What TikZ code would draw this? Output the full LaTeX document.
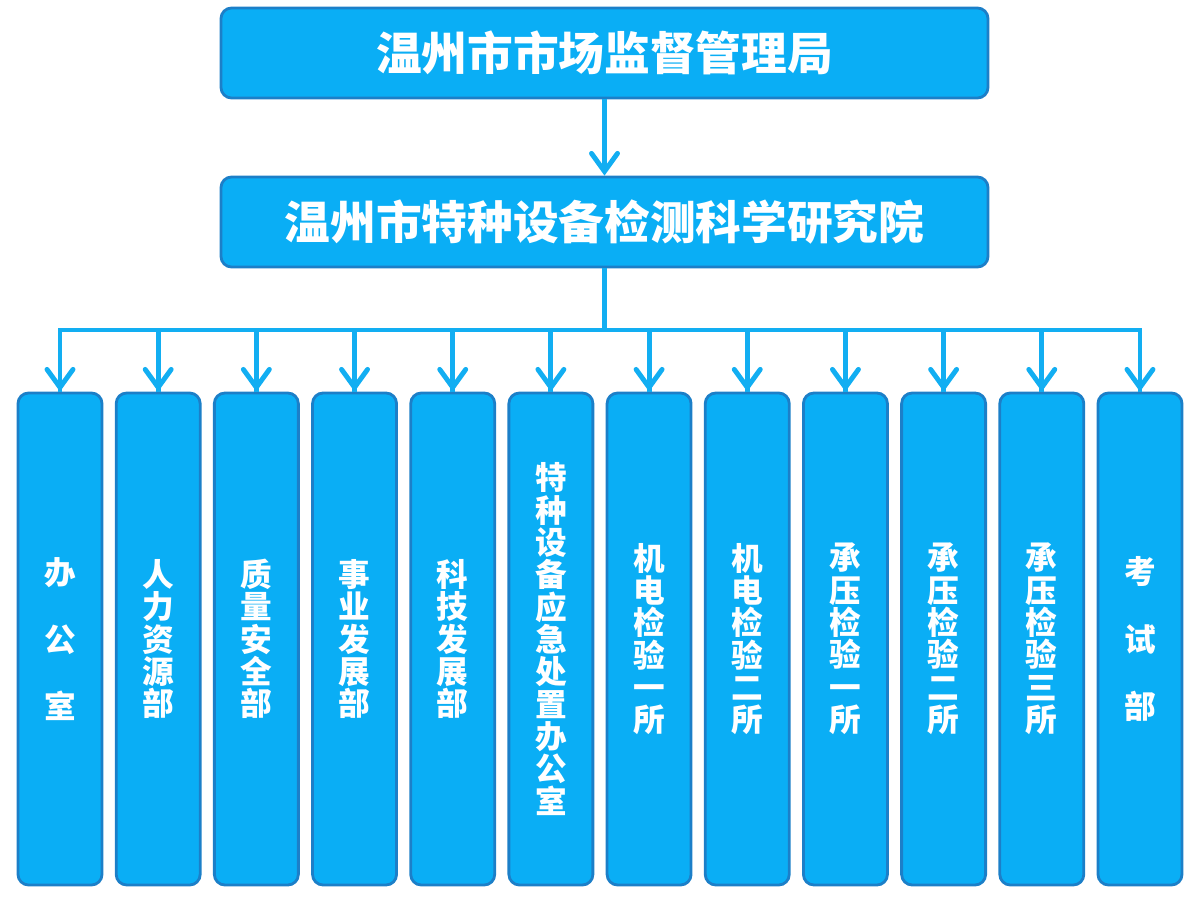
\documentclass[tikz,border=0pt]{standalone}
\usepackage{fontspec}
\setmainfont{Noto Sans CJK SC}
\usetikzlibrary{arrows.meta,positioning}

\definecolor{boxfill}{HTML}{0AAEF5}
\definecolor{boxline}{HTML}{1C7FC8}
\definecolor{linkblue}{HTML}{12AEF2}

\tikzset{
  head/.style={draw=boxline,fill=boxfill,line width=1.6pt,rounded corners=6pt,
    minimum width=15.34cm,minimum height=1.8cm,text=white,
    font=\fontsize{26}{28}\selectfont\bfseries},
  dept/.style={draw=boxline,fill=boxfill,line width=1.6pt,rounded corners=6pt,
    minimum width=1.68cm,minimum height=9.84cm,text=white,align=center,
    font=\fontsize{18}{18.4}\selectfont\bfseries},
  link/.style={draw=linkblue,line width=2.8pt,
    -{Straight Barb[length=3.6mm,width=5.2mm,line cap=round]}}
}

\begin{document}
\begin{tikzpicture}[node distance=3.38cm,on grid]
   \useasboundingbox (0,0) rectangle (23.98,-17.98);
   \node[head] (bureau) at (12.09,-1.06) {温州市市场监督管理局};
   \node[head] (inst) [below=of bureau] {温州市特种设备检测科学研究院};
   \coordinate (bus) at (12.09,-6.6);
   \foreach \name/\label [count=\i from 0] in {
      office/{办\\[1.1em]公\\[1.1em]室},
      hr/{人\\力\\资\\源\\部},
      quality/{质\\量\\安\\全\\部},
      business/{事\\业\\发\\展\\部},
      tech/{科\\技\\发\\展\\部},
      emerg/{特\\种\\设\\备\\应\\急\\处\\置\\办\\公\\室},
      mech1/{机\\电\\检\\验\\一\\所},
      mech2/{机\\电\\检\\验\\二\\所},
      press1/{承\\压\\检\\验\\一\\所},
      press2/{承\\压\\检\\验\\二\\所},
      press3/{承\\压\\检\\验\\三\\所},
      exam/{考\\[1.1em]试\\[1.1em]部}} {
     \node[dept] (\name) at ({1.2+1.9636*\i},-12.78) {\label};
     \draw[link,-] (bus) -| (\name.north);
     \draw[link] (\name.north |- bus) -- (\name.north);
   }
   \draw[link] (bureau) -- (inst);
   \draw[link,-] (inst) -- (bus);
\end{tikzpicture}
\end{document}
